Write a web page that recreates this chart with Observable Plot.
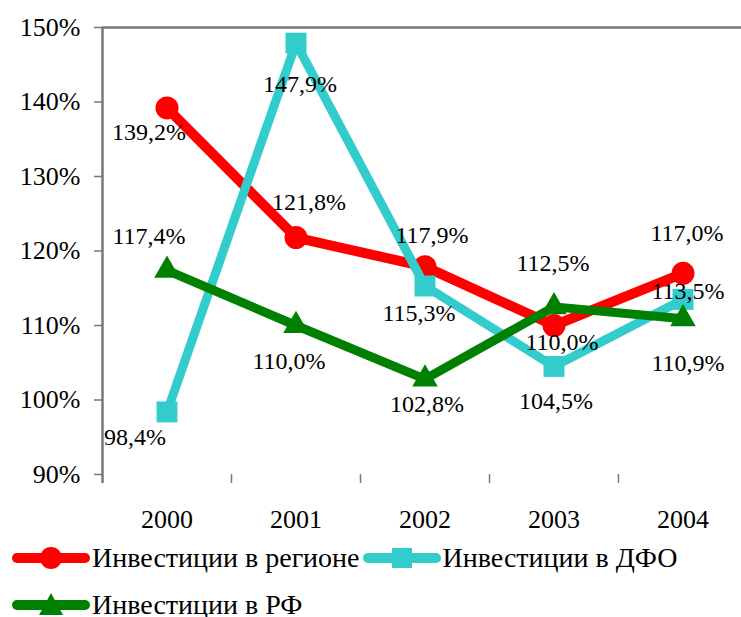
<!DOCTYPE html>
<html>
<head>
<meta charset="utf-8">
<script src="https://cdn.jsdelivr.net/npm/d3@7"></script>
<script src="https://cdn.jsdelivr.net/npm/@observablehq/plot@0.6"></script>
<style>
  body { font-family: 'Liberation Serif'; font-size: 25px; margin: 0; }
</style>
</head>
<body>
<div id="chart"></div>
<div id="legend"></div>
<script>
const years = ["2000", "2001", "2002", "2003", "2004"];
const seriesNames = ["Инвестиции в регионе", "Инвестиции в ДФО", "Инвестиции в РФ"];
const regionValues = [139.2, 121.8, 117.9, 110.0, 117.0];
const dfoValues = [98.4, 147.9, 115.3, 104.5, 113.5];
const rfValues = [117.4, 110.0, 102.8, 112.5, 110.9];
const yTicks = [90, 100, 110, 120, 130, 140, 150];

// label nudges (pixels) relative to each point
const regionNudge = [[-18, 24], [13, -35], [7, -31], [8, 17], [4, -40]];
const dfoNudge = [[-32, 25], [4, 41], [-6, 27], [2, 35], [5, -8]];
const rfNudge = [[-18, -34], [-7, 36], [2, 25], [-1, -44], [5, 45]];

const colors = ["#FF0000", "#33CCCC", "#008000"];
const symbols = ["circle", "square", "triangle"];
const radii = [11.5, 11.8, 9.5];
const FONT = "Liberation Serif";

const seriesValues = [regionValues, dfoValues, rfValues];
const nudges = [regionNudge, dfoNudge, rfNudge];
const rows = seriesValues.map((vals, s) => vals.map((v, i) => ({series: s, year: years[i], value: v, nudge: nudges[s][i]})));
const fmt = v => v.toFixed(1).replace(".", ",") + "%";

const grey = "#777";
const halfBand = 64.5;

const marks = [
  Plot.ruleY([150], {stroke: grey, strokeWidth: 2.5}),
  Plot.ruleY([90], {stroke: grey, strokeWidth: 2.5, x1: "2000", dx: -halfBand}),
  Plot.ruleX(years, {x: d => d, dx: -halfBand, y1: 88.8, y2: d => d === "2000" ? 150 : 90, stroke: grey, strokeWidth: d => d === "2000" ? 2.5 : 1.5}),
  Plot.axisY({ticks: yTicks, tickFormat: d => d + "%", tickSize: 8, tickPadding: 14, fontSize: 26, stroke: grey, strokeWidth: 1.5, fill: "#000", label: null}),
  Plot.axisX({tickSize: 0, tickPadding: 35, fontSize: 26, fill: "#000", label: null})
];

rows.forEach((data, s) => {
  marks.push(Plot.line(data, {x: "year", y: "value", stroke: colors[s], strokeWidth: s === 0 ? 10 : 9, strokeLinejoin: "round", strokeLinecap: "round"}));
  marks.push(Plot.dot(data, {x: "year", y: "value", fill: colors[s], symbol: symbols[s], r: radii[s], stroke: "none"}));
});

rows.forEach(data => {
  data.forEach(d => {
    marks.push(Plot.text([d], {x: "year", y: "value", text: d => fmt(d.value), dx: d.nudge[0], dy: d.nudge[1], fontSize: 24, fill: "#000"}));
  });
});

const chart = Plot.plot({
  width: 741,
  height: 530,
  marginLeft: 102,
  marginTop: 27,
  marginBottom: 56,
  marginRight: 0,
  x: {type: "band", domain: years, range: [102, 747], padding: 0, label: null},
  y: {domain: [90, 150], range: [474, 27], label: null},
  style: {fontFamily: FONT, fontSize: "25px", background: "#fff", color: "#000", overflow: "visible"},
  marks
});
document.getElementById("chart").appendChild(chart);
chart.querySelectorAll("text").forEach(t => t.style.setProperty("font-family", FONT, "important"));

const legend = document.getElementById("legend");
legend.style.cssText = "font-size:28px;color:#000;margin-top:4px;";
legend.style.setProperty("font-family", FONT, "important");
const swatch = s => {
  const c = colors[s];
  let marker;
  if (s === 0) marker = `<circle cx="39" cy="13" r="11" fill="${c}"/>`;
  else if (s === 1) marker = `<rect x="29" y="3" width="20" height="20" fill="${c}"/>`;
  else marker = `<path d="M39,1 L51,23 L27,23 Z" fill="${c}"/>`;
  return `<svg width="78" height="26" viewBox="0 0 78 26" style="display:block;margin-right:2px"><line x1="5" y1="13" x2="73" y2="13" stroke="${c}" stroke-width="10" stroke-linecap="round"/>${marker}</svg>`;
};
const layout = [[0, 1], [2]];
layout.forEach(r => {
  const row = document.createElement("div");
  row.style.cssText = "display:flex;align-items:center;height:47px;padding-left:12px;";
  r.forEach((s, k) => {
    const it = document.createElement("div");
    it.style.cssText = "display:flex;align-items:center;margin-right:3px;";
    it.innerHTML = swatch(s) + `<span style="font-family:'Liberation Serif'">${seriesNames[s]}</span>`;
    row.appendChild(it);
  });
  legend.appendChild(row);
});
</script>
</body>
</html>
